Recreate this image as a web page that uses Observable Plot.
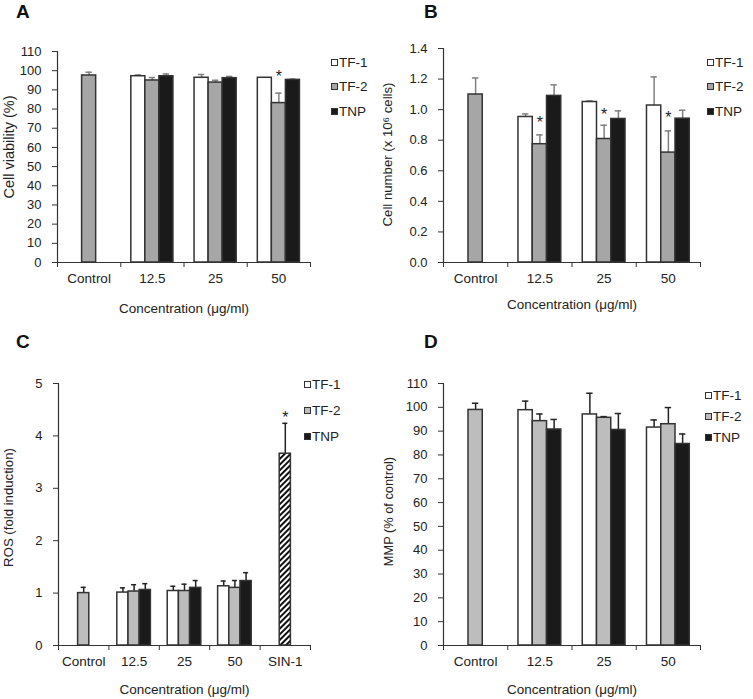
<!DOCTYPE html>
<html><head><meta charset="utf-8">
<script src="https://cdn.jsdelivr.net/npm/d3@7"></script>
<script src="https://cdn.jsdelivr.net/npm/@observablehq/plot@0.6"></script>
<style>
body{margin:0;background:#fff;font-family:"Liberation Sans",Arial,sans-serif;}
#wrap{position:relative;width:753px;height:699px;overflow:hidden;background:#fff;}
.panel{position:absolute;}
.plabel{position:absolute;font-weight:bold;font-size:19px;line-height:1;color:#111;}
.legend{position:absolute;font-size:13.5px;color:#222;}
.legend .row{display:flex;align-items:center;white-space:nowrap;}
.legend .sw{width:5px;height:5px;border:1.3px solid #333;margin-right:1px;}
</style></head><body><div id="wrap"></div>
<script>
const FONT = '"Liberation Sans", Arial, sans-serif';
const seriesNames = ["TF-1", "TF-2", "TNP"];

// ---- Panel A: cell viability (%)
const catsA = ["Control", "12.5", "25", "50"];
const viabTF1 = [null, 97.1, 96.3, 96.3];
const viabTF1Err = [null, 0.7, 1.7, 0];
const viabTF2 = [97.5, 94.9, 93.8, 83.1];
const viabTF2Err = [1.7, 1.5, 1.2, 5.2];
const viabTNP = [null, 97.1, 96.1, 95.2];
const viabTNPErr = [null, 1.2, 0.9, 0.4];
const starsA = [{cat: "50", series: "TF-2", y: 96.6}];

// ---- Panel B: cell number (x 10^6 cells)
const catsB = ["Control", "12.5", "25", "50"];
const cellTF1 = [null, 0.952, 1.050, 1.027];
const cellTF1Err = [null, 0.020, 0.007, 0.187];
const cellTF2 = [1.099, 0.774, 0.808, 0.719];
const cellTF2Err = [0.108, 0.061, 0.090, 0.142];
const cellTNP = [null, 1.090, 0.939, 0.941];
const cellTNPErr = [null, 0.072, 0.053, 0.055];
const starsB = [{cat: "12.5", series: "TF-2", y: 0.913}, {cat: "25", series: "TF-2", y: 0.968}, {cat: "50", series: "TF-2", y: 0.944}];

// ---- Panel C: ROS (fold induction)
const catsC = ["Control", "12.5", "25", "50", "SIN-1"];
const rosTF1 = [null, 1.01, 1.04, 1.13, null];
const rosTF1Err = [null, 0.09, 0.09, 0.10, null];
const rosTF2 = [1.00, 1.03, 1.04, 1.10, null];
const rosTF2Err = [0.11, 0.13, 0.13, 0.14, null];
const rosTNP = [null, 1.06, 1.10, 1.23, null];
const rosTNPErr = [null, 0.12, 0.14, 0.16, null];
const rosSIN1 = [null, null, null, null, 3.66];
const rosSIN1Err = [null, null, null, null, 0.58];
const starsC = [{cat: "SIN-1", series: "SIN-1", y: 4.35}];

// ---- Panel D: MMP (% of control)
const catsD = ["Control", "12.5", "25", "50"];
const mmpTF1 = [null, 98.8, 97.0, 91.5];
const mmpTF1Err = [null, 3.8, 8.9, 3.2];
const mmpTF2 = [98.9, 94.2, 95.6, 92.9];
const mmpTF2Err = [2.8, 3.0, 0.5, 7.0];
const mmpTNP = [null, 90.7, 90.5, 84.6];
const mmpTNPErr = [null, 4.2, 6.9, 4.2];

const ticksA = d3.range(0, 111, 10);
const ticksB = d3.range(0, 1.41, 0.2);
const ticksC = d3.range(0, 6, 1);
const ticksD = d3.range(0, 111, 10);

function toRows(cats, list) {
  const out = [];
  for (const [series, means, errs] of list) {
    cats.forEach((cat, ci) => {
      if (means[ci] != null) out.push({cat, series, mean: means[ci], err: errs[ci] || 0});
    });
  }
  return out;
}

const slot = {"TF-1": -1, "TF-2": 0, "TNP": 1, "SIN-1": 0};
const BW = 0.222;   // bar width as a fraction of a category
const CAP = 0.05;   // half-width of error caps

function makePanel(cfg) {
  const {cats, rows, stars, yDomain, yTicks, yFormat, yLabel, yLabelSize, yLabelDx, yLabelDy, tf2, errColor,
         width, height, mL, mR, mT, mB, xLabelOffset} = cfg;
  const n = cats.length;
  const cx = d => cats.indexOf(d.cat) + 0.5 + slot[d.series] * BW;
  const withErr = rows.filter(d => d.err > 0);
  const svg = Plot.plot({
    width, height, marginLeft: mL, marginRight: mR, marginTop: mT, marginBottom: mB,
    style: {fontFamily: FONT, fontSize: "13px", color: "#222", background: "white", overflow: "visible"},
    x: {type: "linear", domain: [0, n]},
    y: {domain: yDomain},
    color: {domain: ["TF-1", "TF-2", "TNP", "SIN-1"], range: ["#ffffff", tf2, "#1a1a1a", "url(#hatch)"]},
    marks: [
      Plot.ruleX(withErr, {x: cx, y1: d => d.mean, y2: d => d.mean + d.err, stroke: errColor, strokeWidth: 1.5}),
      Plot.ruleY(withErr, {y: d => d.mean + d.err, x1: d => cx(d) - CAP, x2: d => cx(d) + CAP, stroke: errColor, strokeWidth: 1.5}),
      Plot.rectY(rows, {x1: d => cx(d) - BW / 2, x2: d => cx(d) + BW / 2, y1: 0, y2: d => d.mean, fill: "series", stroke: "#333", strokeWidth: 1.5}),
      Plot.ruleY([yDomain[0]], {stroke: "#333", strokeWidth: 1.2}),
      Plot.ruleX([0], {stroke: "#333", strokeWidth: 1.2}),
      Plot.axisY({ticks: yTicks, tickFormat: yFormat, tickSize: 5, tickPadding: 11, stroke: "#333", label: null, fontSize: 13}),
      Plot.text([yLabel], {text: d => d, frameAnchor: "left", rotate: -90, dx: -yLabelDx, dy: yLabelDy,
                           lineAnchor: "middle", textAnchor: "middle", fontSize: yLabelSize, fill: "#222"}),
      Plot.axisX({ticks: d3.range(n + 1), tickFormat: () => "", tickSize: 5, stroke: "#333", label: null}),
      Plot.axisX({ticks: cats.map((c, i) => i + 0.5), tickFormat: v => cats[Math.floor(v)], tickSize: 0, tickPadding: 11,
                  label: "Concentration (μg/ml)", labelAnchor: "center", labelArrow: "none", labelOffset: xLabelOffset, fontSize: 13.5}),
      Plot.text(stars, {x: cx, y: "y", text: () => "*", fontSize: 16, fill: "#222"})
    ]
  });
  return svg;
}

const wrap = document.getElementById("wrap");

function place(svg, left, top) {
  const d = document.createElement("div");
  d.className = "panel";
  d.style.left = left + "px";
  d.style.top = top + "px";
  d.appendChild(svg);
  wrap.appendChild(d);
}

function label(txt, left, top) {
  const d = document.createElement("div");
  d.className = "plabel";
  d.textContent = txt;
  d.style.left = left + "px";
  d.style.top = top + "px";
  wrap.appendChild(d);
}

const legendFill = {"TF-1": "#ffffff", "TF-2": "#a6a6a6", "TNP": "#1a1a1a"};
function legend(left, top, tf2, rowH) {
  const d = document.createElement("div");
  d.className = "legend";
  d.style.left = left + "px";
  d.style.top = top + "px";
  for (const s of seriesNames) {
    const r = document.createElement("div");
    r.className = "row";
    r.style.height = rowH + "px";
    const sw = document.createElement("div");
    sw.className = "sw";
    sw.style.background = s === "TF-2" ? tf2 : legendFill[s];
    r.appendChild(sw);
    const t = document.createElement("span");
    t.textContent = s;
    r.appendChild(t);
    d.appendChild(r);
  }
  wrap.appendChild(d);
}

// Panel A
const svgA = makePanel({
  cats: catsA,
  rows: toRows(catsA, [["TF-1", viabTF1, viabTF1Err], ["TF-2", viabTF2, viabTF2Err], ["TNP", viabTNP, viabTNPErr]]),
  stars: starsA, yDomain: [0, 110], yTicks: ticksA, yFormat: d3.format("d"),
  yLabel: "Cell viability (%)", yLabelSize: 14.5, yLabelDx: 48, yLabelDy: -10,
  tf2: "#a6a6a6", errColor: "#808080",
  width: 376, height: 330, mL: 57, mR: 66, mT: 51, mB: 68, xLabelOffset: 50
});
place(svgA, 0, 0);

// Panel B
const svgB = makePanel({
  cats: catsB,
  rows: toRows(catsB, [["TF-1", cellTF1, cellTF1Err], ["TF-2", cellTF2, cellTF2Err], ["TNP", cellTNP, cellTNPErr]]),
  stars: starsB, yDomain: [0, 1.4], yTicks: ticksB, yFormat: d3.format(".1f"),
  yLabel: "Cell number (x 10⁶ cells)", yLabelSize: 13.2, yLabelDx: 55.5, yLabelDy: -1,
  tf2: "#a6a6a6", errColor: "#808080",
  width: 377, height: 330, mL: 67, mR: 53, mT: 48, mB: 68, xLabelOffset: 46
});
place(svgB, 376, 0);

// Panel C
const svgC = makePanel({
  cats: catsC,
  rows: toRows(catsC, [["TF-1", rosTF1, rosTF1Err], ["TF-2", rosTF2, rosTF2Err], ["TNP", rosTNP, rosTNPErr], ["SIN-1", rosSIN1, rosSIN1Err]]),
  stars: starsC, yDomain: [0, 5], yTicks: ticksC, yFormat: d3.format("d"),
  yLabel: "ROS (fold induction)", yLabelSize: 13.2, yLabelDx: 50, yLabelDy: -7,
  tf2: "#bdbdbd", errColor: "#222",
  width: 376, height: 369, mL: 58, mR: 66, mT: 53, mB: 54, xLabelOffset: 48
});
{
  const defs = d3.select(svgC).insert("defs", ":first-child");
  const p = defs.append("pattern").attr("id", "hatch").attr("patternUnits", "userSpaceOnUse")
    .attr("width", 4).attr("height", 4).attr("patternTransform", "rotate(45)");
  p.append("rect").attr("width", 4).attr("height", 4).attr("fill", "#fff");
  p.append("rect").attr("width", 2).attr("height", 4).attr("fill", "#111");
}
place(svgC, 0, 330);

// Panel D
const svgD = makePanel({
  cats: catsD,
  rows: toRows(catsD, [["TF-1", mmpTF1, mmpTF1Err], ["TF-2", mmpTF2, mmpTF2Err], ["TNP", mmpTNP, mmpTNPErr]]),
  stars: [], yDomain: [0, 110], yTicks: ticksD, yFormat: d3.format("d"),
  yLabel: "MMP (% of control)", yLabelSize: 12.8, yLabelDx: 55, yLabelDy: -3,
  tf2: "#bdbdbd", errColor: "#222",
  width: 377, height: 369, mL: 67, mR: 53, mT: 53, mB: 54, xLabelOffset: 48
});
place(svgD, 376, 330);

label("A", 16, 2);
label("B", 424, 2);
label("C", 16, 332);
label("D", 424, 332);

legend(331, 50, "#a6a6a6", 24.5);
legend(707, 50, "#a6a6a6", 24.5);
legend(304, 371, "#bdbdbd", 26);
legend(705, 385, "#bdbdbd", 21);
</script>
</body></html>
